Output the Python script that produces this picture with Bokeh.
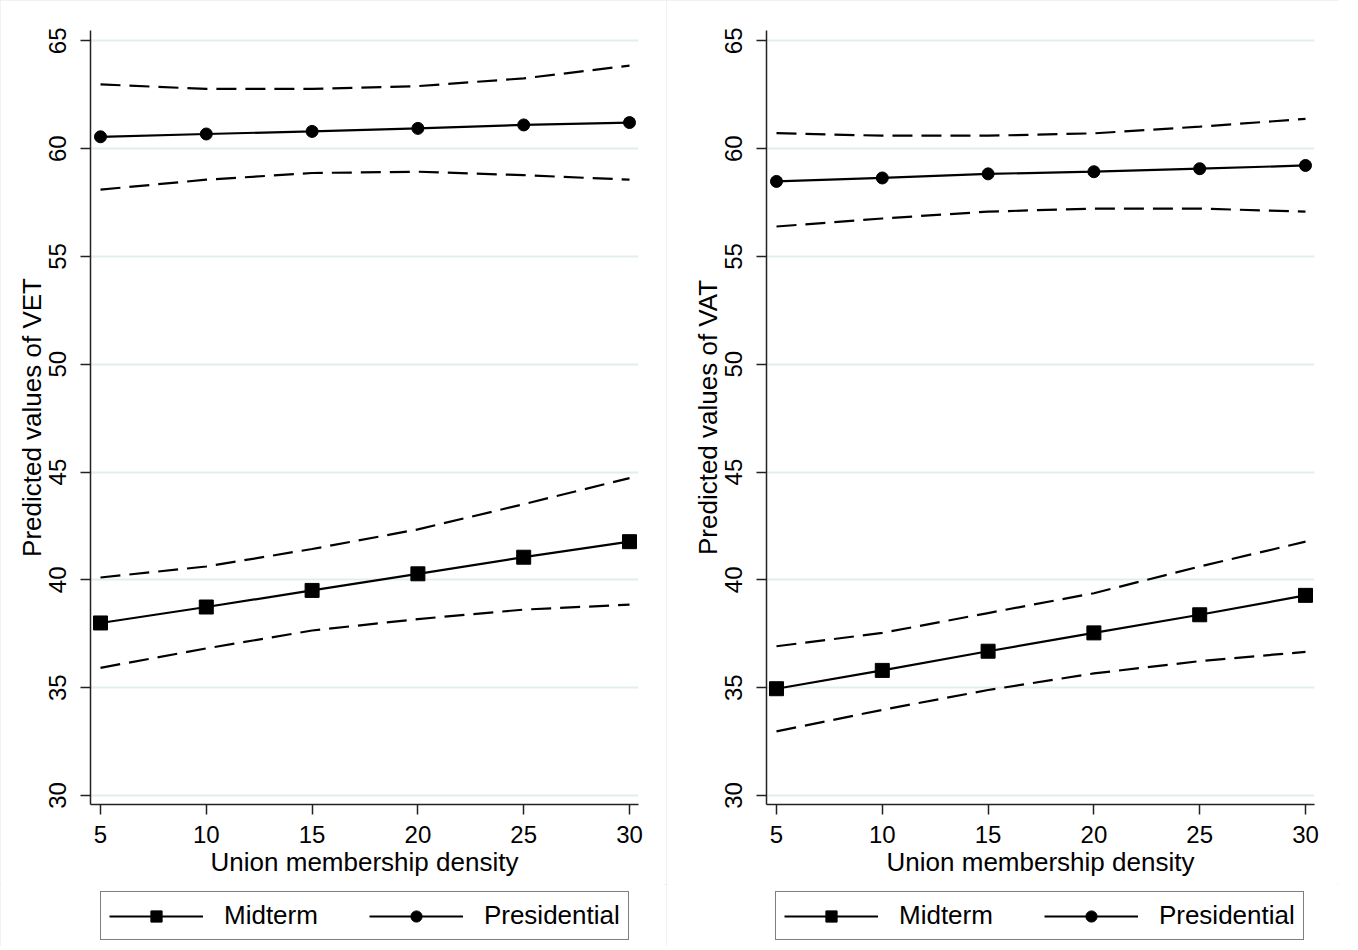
from bokeh.plotting import figure
from bokeh.models import Legend, LegendItem, Range1d, FixedTicker
from bokeh.layouts import row, column
from bokeh.embed import file_html
from bokeh.resources import INLINE

# ---- data ----
union_density = [5, 10, 15, 20, 25, 30]

vet_midterm = [38.00, 38.74, 39.51, 40.28, 41.05, 41.77]
vet_midterm_lo = [35.92, 36.82, 37.65, 38.18, 38.62, 38.85]
vet_midterm_hi = [40.11, 40.62, 41.43, 42.34, 43.51, 44.72]
vet_pres = [60.55, 60.68, 60.80, 60.94, 61.10, 61.21]
vet_pres_lo = [58.10, 58.56, 58.87, 58.93, 58.77, 58.56]
vet_pres_hi = [62.98, 62.77, 62.77, 62.90, 63.26, 63.85]

vat_midterm = [34.95, 35.80, 36.69, 37.54, 38.38, 39.28]
vat_midterm_lo = [32.97, 33.97, 34.89, 35.66, 36.23, 36.66]
vat_midterm_hi = [36.92, 37.54, 38.46, 39.38, 40.62, 41.77]
vat_pres = [58.48, 58.64, 58.83, 58.93, 59.07, 59.22]
vat_pres_lo = [56.39, 56.76, 57.08, 57.22, 57.22, 57.08]
vat_pres_hi = [60.72, 60.60, 60.60, 60.71, 61.02, 61.38]

x_ticks = [5, 10, 15, 20, 25, 30]
y_ticks = [30, 35, 40, 45, 50, 55, 60, 65]
x_label = "Union membership density"
series_labels = ["Midterm", "Presidential"]

FONT = "Liberation Sans"
SOLID = dict(line_color="black", line_width=2.2)
SQUARE = dict(marker="square", size=14, fill_color="black", line_color="black")
CIRCLE = dict(marker="circle", size=12, fill_color="black", line_color="black")


def panel(ylabel, mid, mid_lo, mid_hi, pres, pres_lo, pres_hi, bl, br, leg_x):
    width = bl + 548 + br
    p = figure(frame_width=548, frame_height=774,
               x_range=Range1d(4.528, 30.425), y_range=Range1d(29.58, 65.48),
               output_backend="svg", toolbar_location=None,
               min_border_left=bl, min_border_right=br,
               min_border_top=30, min_border_bottom=80,
               outline_line_color=None,
               background_fill_color="white", border_fill_color="white")
    p.xgrid.grid_line_color = None
    p.ygrid.grid_line_color = "#e3edf0"
    p.ygrid.grid_line_width = 2
    p.ygrid.ticker = FixedTicker(ticks=y_ticks)

    for ax in (p.xaxis[0], p.yaxis[0]):
        ax.axis_line_color = "#222222"
        ax.axis_line_width = 1.5
        ax.major_tick_line_color = "#222222"
        ax.major_tick_line_width = 1.5
        ax.major_tick_out = 10
        ax.major_tick_in = 0
        ax.minor_tick_line_color = None
        ax.major_label_text_font = FONT
        ax.major_label_text_font_size = "24px"
        ax.major_label_text_color = "black"
        ax.axis_label_text_font = FONT
        ax.axis_label_text_font_style = "normal"
        ax.axis_label_text_color = "black"
        ax.axis_label_text_font_size = "26px"
    p.xaxis.major_label_standoff = 11
    p.xaxis.axis_label_standoff = 1
    p.yaxis.major_label_standoff = 14
    p.yaxis.axis_label_standoff = 0
    p.xaxis.ticker = FixedTicker(ticks=x_ticks)
    p.yaxis.ticker = FixedTicker(ticks=y_ticks)
    p.yaxis.major_label_orientation = "vertical"
    p.xaxis.axis_label = x_label
    p.yaxis.axis_label = ylabel

    dash = dict(line_color="black", line_width=2.2, line_dash="20 9")
    p.line(union_density, mid_lo, **dash)
    p.line(union_density, mid_hi, **dash)
    p.line(union_density, pres_lo, **dash)
    p.line(union_density, pres_hi, **dash)

    p.line(union_density, mid, **SOLID)
    p.scatter(union_density, mid, **SQUARE)
    p.line(union_density, pres, **SOLID)
    p.scatter(union_density, pres, **CIRCLE)

    # legend strip below the panel
    lf = figure(width=width, height=62, x_range=Range1d(0, 1), y_range=Range1d(0, 1),
                x_axis_type=None, y_axis_type=None, output_backend="svg",
                toolbar_location=None, min_border=0, outline_line_color=None,
                background_fill_color="white", border_fill_color="white")
    lf.xgrid.visible = False
    lf.ygrid.visible = False
    l1 = lf.line(union_density, mid, **SOLID)
    s1 = lf.scatter(union_density, mid, **SQUARE)
    l2 = lf.line(union_density, pres, **SOLID)
    s2 = lf.scatter(union_density, pres, **CIRCLE)
    legend = Legend(items=[LegendItem(label=series_labels[0], renderers=[l1, s1]),
                           LegendItem(label=series_labels[1], renderers=[l2, s2])],
                    orientation="horizontal", location=(leg_x, 6),
                    glyph_width=94, glyph_height=28, label_standoff=21,
                    spacing=51, padding=8, margin=0,
                    border_line_color="black", border_line_width=1.5,
                    background_fill_alpha=1, background_fill_color="white",
                    label_text_font=FONT, label_text_font_size="26px",
                    label_text_color="black")
    lf.add_layout(legend, "center")
    return column(p, lf, spacing=0,
                  styles={"outline": "2px solid #e9f0f2", "outline-offset": "-2px"})


c1 = panel("Predicted values of VET", vet_midterm, vet_midterm_lo, vet_midterm_hi,
           vet_pres, vet_pres_lo, vet_pres_hi, 90, 28, 10)
c2 = panel("Predicted values of VAT", vat_midterm, vat_midterm_lo, vat_midterm_hi,
           vat_pres, vat_pres_lo, vat_pres_hi, 100, 25, 9)

layout = row(c1, c2, spacing=0)
open("out.html", "w").write(file_html(layout, INLINE))
